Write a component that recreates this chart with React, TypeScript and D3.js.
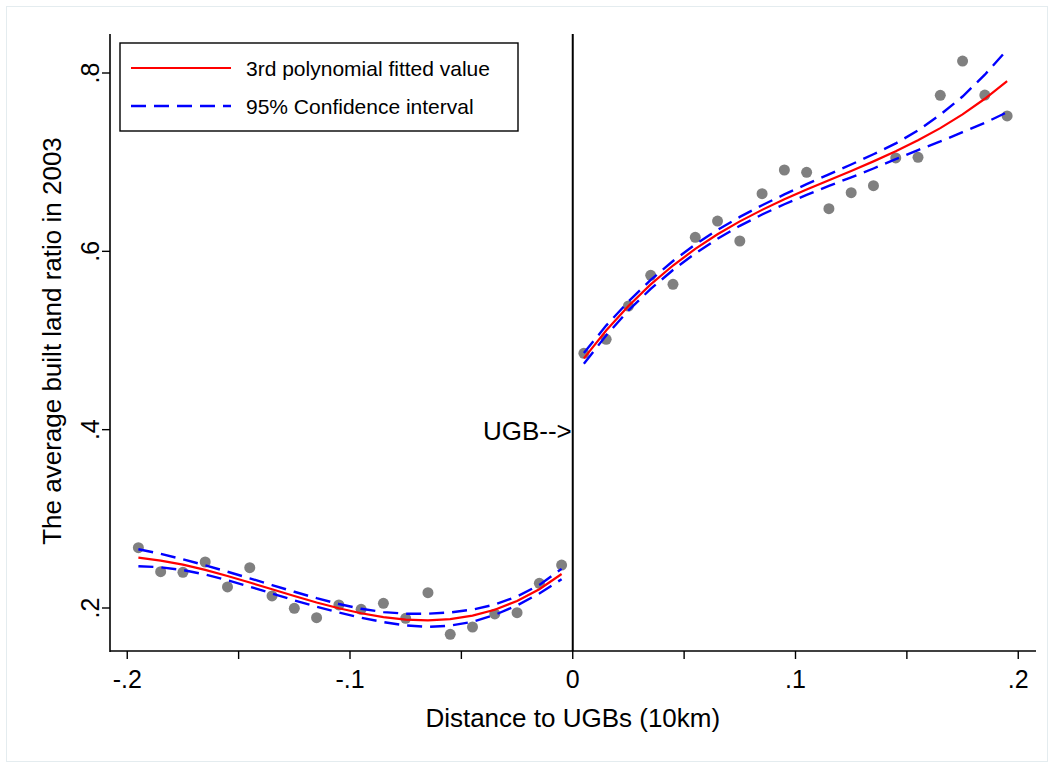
import React from 'react'
import * as d3 from 'd3'

// bins left of the boundary
const leftX = [-0.195, -0.185, -0.175, -0.165, -0.155, -0.145, -0.135, -0.125, -0.115, -0.105, -0.095, -0.085, -0.075, -0.065, -0.055, -0.045, -0.035, -0.025, -0.015, -0.005]
const leftObs = [0.2676, 0.2407, 0.24, 0.2516, 0.2236, 0.2452, 0.2135, 0.1997, 0.1891, 0.2034, 0.1985, 0.2053, 0.1884, 0.2172, 0.1705, 0.1787, 0.1933, 0.1947, 0.2277, 0.2482]
const leftFit = [0.2564, 0.2532, 0.2486, 0.2427, 0.2359, 0.2286, 0.221, 0.2134, 0.2062, 0.1997, 0.1941, 0.1898, 0.187, 0.1862, 0.1876, 0.1914, 0.1981, 0.2079, 0.2211, 0.2381]
const leftUpper = [0.2659, 0.2607, 0.2546, 0.2479, 0.2407, 0.2333, 0.2257, 0.2182, 0.211, 0.2045, 0.1991, 0.1954, 0.1936, 0.1936, 0.195, 0.1982, 0.2039, 0.2129, 0.2259, 0.2439]
const leftLower = [0.2469, 0.2457, 0.2426, 0.2375, 0.2311, 0.2239, 0.2163, 0.2086, 0.2014, 0.1949, 0.1891, 0.1842, 0.1804, 0.1788, 0.1802, 0.1846, 0.1923, 0.2029, 0.2163, 0.2323]

// bins right of the boundary
const rightX = [0.005, 0.015, 0.025, 0.035, 0.045, 0.055, 0.065, 0.075, 0.085, 0.095, 0.105, 0.115, 0.125, 0.135, 0.145, 0.155, 0.165, 0.175, 0.185, 0.195]
const rightObs = [0.4856, 0.5013, 0.5387, 0.5731, 0.563, 0.6157, 0.634, 0.6116, 0.6647, 0.6912, 0.6886, 0.6478, 0.6658, 0.6736, 0.7047, 0.7054, 0.775, 0.8134, 0.7753, 0.7518]
const rightFit = [0.48, 0.5112, 0.5387, 0.5629, 0.5841, 0.6027, 0.6191, 0.6336, 0.6465, 0.6583, 0.6693, 0.6798, 0.6902, 0.7009, 0.7122, 0.7246, 0.7382, 0.7536, 0.7711, 0.791]
const rightUpper = [0.486, 0.5167, 0.5437, 0.5679, 0.5891, 0.6077, 0.6241, 0.6386, 0.6517, 0.6638, 0.6753, 0.6863, 0.6974, 0.7089, 0.721, 0.7356, 0.7532, 0.7736, 0.7981, 0.826]
const rightLower = [0.474, 0.5057, 0.5337, 0.5579, 0.5791, 0.5977, 0.6141, 0.6286, 0.6413, 0.6528, 0.6633, 0.6733, 0.683, 0.6929, 0.7034, 0.7136, 0.7232, 0.7336, 0.7441, 0.756]

const xTicks = [-0.2, -0.15, -0.1, -0.05, 0, 0.05, 0.1, 0.15, 0.2]
const xLabels = ['-.2', '', '-.1', '', '0', '', '.1', '', '.2']
const yTicks = [0.2, 0.4, 0.6, 0.8]
const yLabels = ['.2', '.4', '.6', '.8']

const font = '"Liberation Sans", Arial, Helvetica, sans-serif'
const W = 1054
const H = 768

export default function App() {
  const x = d3.scaleLinear().domain([-0.2, 0.2]).range([127.25, 1018.25])
  const y = d3.scaleLinear().domain([0.2, 0.8]).range([608, 73])

  const axisLeft = 110
  const axisBottom = 651
  const plotTop = 34
  const plotRight = 1036

  const line = d3
    .line<[number, number]>()
    .x((d) => x(d[0]))
    .y((d) => y(d[1]))

  const zip = (xs: number[], ys: number[]) => xs.map((v, i) => [v, ys[i]] as [number, number])

  const sides = [
    { xs: leftX, obs: leftObs, fit: leftFit, up: leftUpper, lo: leftLower },
    { xs: rightX, obs: rightObs, fit: rightFit, up: rightUpper, lo: rightLower },
  ]

  return (
    <svg width={W} height={H} style={{ position: 'absolute', left: 0, top: 0, background: '#fff' }} fontFamily={font}>
      <rect x={6.5} y={6.5} width={W - 13} height={H - 13} fill="#fff" stroke="#e4ecef" />

      {/* points */}
      {sides.map((s, k) => (
        <g key={'p' + k} fill="#808080">
          {s.xs.map((v, i) => (
            <circle key={i} cx={x(v)} cy={y(s.obs[i])} r={5.5} />
          ))}
        </g>
      ))}

      {/* confidence bands */}
      {sides.map((s, k) => (
        <g key={'c' + k} fill="none" stroke="#0000ff" strokeWidth={2.4} strokeDasharray="15,8">
          <path d={line(zip(s.xs, s.up)) ?? ''} />
          <path d={line(zip(s.xs, s.lo)) ?? ''} />
        </g>
      ))}

      {/* fitted values */}
      {sides.map((s, k) => (
        <path key={'f' + k} d={line(zip(s.xs, s.fit)) ?? ''} fill="none" stroke="#ff0000" strokeWidth={2.2} />
      ))}

      {/* boundary line */}
      <line x1={x(0)} x2={x(0)} y1={plotTop} y2={axisBottom} stroke="#000" strokeWidth={2} />
      <text x={x(0) - 1} y={440} textAnchor="end" fontSize={26}>
        UGB--&gt;
      </text>

      {/* y axis */}
      <line x1={axisLeft} x2={axisLeft} y1={plotTop} y2={axisBottom + 1} stroke="#000" strokeWidth={1.6} />
      {yTicks.map((t, i) => (
        <g key={t}>
          <line x1={axisLeft - 8} x2={axisLeft} y1={y(t)} y2={y(t)} stroke="#000" strokeWidth={1.4} />
          <text transform={`translate(${axisLeft - 11},${y(t)}) rotate(-90)`} textAnchor="middle" fontSize={25}>
            {yLabels[i]}
          </text>
        </g>
      ))}
      <text transform={`translate(61,341) rotate(-90)`} textAnchor="middle" fontSize={26}>
        The average built land ratio in 2003
      </text>

      {/* x axis */}
      <line x1={axisLeft} x2={plotRight} y1={axisBottom} y2={axisBottom} stroke="#000" strokeWidth={1.6} />
      {xTicks.map((t, i) => (
        <g key={t}>
          <line x1={x(t)} x2={x(t)} y1={axisBottom} y2={axisBottom + 8} stroke="#000" strokeWidth={1.4} />
          {xLabels[i] && (
            <text x={x(t)} y={688} textAnchor="middle" fontSize={25}>
              {xLabels[i]}
            </text>
          )}
        </g>
      ))}
      <text x={x(0)} y={727} textAnchor="middle" fontSize={26}>
        Distance to UGBs (10km)
      </text>

      {/* legend */}
      <rect x={120} y={43} width={398} height={88} fill="#fff" stroke="#000" strokeWidth={1.4} />
      <line x1={131} x2={231} y1={68} y2={68} stroke="#ff0000" strokeWidth={2.2} />
      <line x1={131} x2={231} y1={106} y2={106} stroke="#0000ff" strokeWidth={2.4} strokeDasharray="15,8" />
      <text x={246} y={75.5} fontSize={21}>
        3rd polynomial fitted value
      </text>
      <text x={246} y={113.5} fontSize={21}>
        95% Confidence interval
      </text>
    </svg>
  )
}
